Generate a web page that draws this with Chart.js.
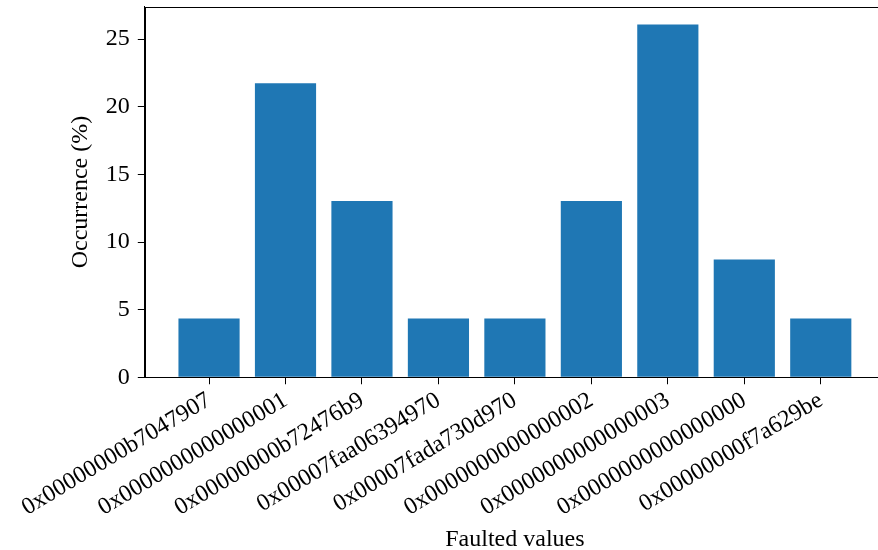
<!DOCTYPE html>
<html>
<head>
<meta charset="utf-8">
<script src="https://cdn.jsdelivr.net/npm/chart.js@4"></script>
<style>
  html, body { margin: 0; padding: 0; background: #fff; overflow: hidden; }
  #wrap { width: 890px; height: 553px; margin-top: -6px; }
</style>
</head>
<body>
<div id="wrap"><canvas id="faults"></canvas></div>
<script>
const faultedValues = [
  '0x00000000b7047907',
  '0x0000000000000001',
  '0x00000000b72476b9',
  '0x00007faa06394970',
  '0x00007fada730d970',
  '0x0000000000000002',
  '0x0000000000000003',
  '0x0000000000000000',
  '0x00000000f7a629be'
];
const occurrence = [4.35, 21.74, 13.04, 4.35, 4.35, 13.04, 26.09, 8.70, 4.35];
const yTicks = [0, 5, 10, 15, 20, 25];

const serif = 'Liberation Serif';

// frame around plot area (top / right spines)
const frame = {
  id: 'frame',
  afterDraw(chart) {
    const a = chart.chartArea, ctx = chart.ctx;
    ctx.save();
    ctx.strokeStyle = '#000';
    ctx.lineWidth = 1;
    ctx.strokeRect(Math.round(a.left) + 0.5, Math.round(a.top) + 0.5,
      Math.round(a.right - a.left), Math.round(a.bottom - a.top));
    ctx.restore();
  }
};

new Chart(document.getElementById('faults'), {
  type: 'bar',
  data: {
    datasets: [{
      data: occurrence.map((v, i) => ({ x: i, y: v })),
      backgroundColor: '#1f77b4',
      borderWidth: 0,
      barPercentage: 0.8,
      categoryPercentage: 1.0
    }]
  },
  options: {
    responsive: true,
    maintainAspectRatio: false,
    animation: false,
    layout: { padding: { top: 1, left: 66, right: 5, bottom: -7 } },
    plugins: { legend: { display: false }, tooltip: { enabled: false } },
    scales: {
      x: {
        type: 'linear',
        offset: false,
        min: -0.84,
        max: 8.84,
        afterBuildTicks: s => { s.ticks = faultedValues.map((_, i) => ({ value: i })); },
        ticks: {
          callback: v => faultedValues[v],
          autoSkip: false,
          minRotation: 31,
          maxRotation: 31,
          color: '#000',
          padding: 2,
          font: { family: serif, size: 24 }
        },
        grid: { offset: false, drawOnChartArea: false, tickLength: 7, color: '#000' },
        border: { color: '#000' },
        title: {
          display: true,
          text: 'Faulted values',
          color: '#000',
          padding: { top: 1, bottom: 0 },
          font: { family: serif, size: 24 }
        }
      },
      y: {
        min: 0,
        max: 27.39,
        afterBuildTicks: s => { s.ticks = yTicks.map(v => ({ value: v })); },
        ticks: {
          color: '#000',
          padding: 8,
          font: { family: serif, size: 24, lineHeight: 0.4 }
        },
        grid: { drawOnChartArea: false, tickLength: 7, color: '#000' },
        border: { color: '#000' },
        title: {
          display: true,
          text: 'Occurrence (%)',
          color: '#000',
          padding: { top: 0, bottom: 3 },
          font: { family: serif, size: 24 }
        }
      }
    }
  },
  plugins: [frame]
});
</script>
</body>
</html>
